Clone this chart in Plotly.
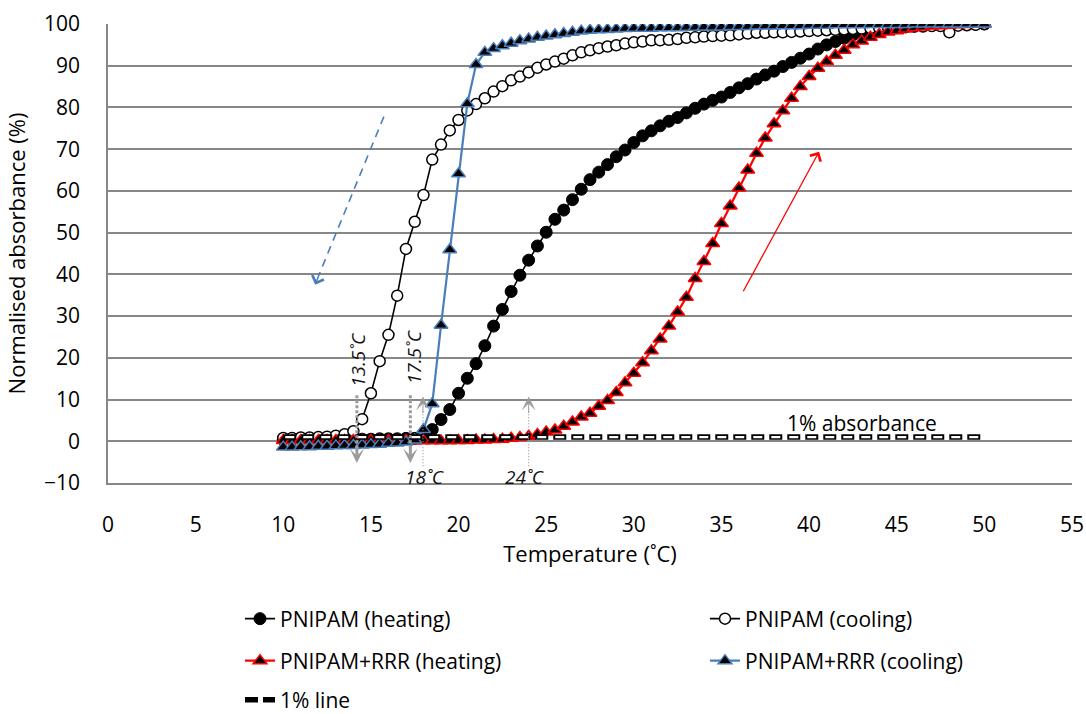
import plotly.graph_objects as go

# ---------------- data ----------------
temps = [10.0, 10.5, 11.0, 11.5, 12.0, 12.5, 13.0, 13.5, 14.0, 14.5,
         15.0, 15.5, 16.0, 16.5, 17.0, 17.5, 18.0, 18.5, 19.0, 19.5,
         20.0, 20.5, 21.0, 21.5, 22.0, 22.5, 23.0, 23.5, 24.0, 24.5,
         25.0, 25.5, 26.0, 26.5, 27.0, 27.5, 28.0, 28.5, 29.0, 29.5,
         30.0, 30.5, 31.0, 31.5, 32.0, 32.5, 33.0, 33.5, 34.0, 34.5,
         35.0, 35.5, 36.0, 36.5, 37.0, 37.5, 38.0, 38.5, 39.0, 39.5,
         40.0, 40.5, 41.0, 41.5, 42.0, 42.5, 43.0, 43.5, 44.0, 44.5,
         45.0, 45.5, 46.0, 46.5, 47.0, 47.5, 48.0, 48.5, 49.0, 49.5, 50.0]

pnipam_heating = [0.4, 0.4, 0.5, 0.5, 0.5, 0.5, 0.5, 0.5, 0.5, 0.5,
                  0.5, 0.6, 0.6, 0.6, 0.7, 0.7, 1.0, 2.8, 5.2, 7.6,
                  11.5, 15.1, 18.6, 22.9, 27.6, 31.6, 35.9, 39.8, 43.4, 46.8,
                  50.1, 53.2, 55.4, 57.9, 60.4, 62.7, 64.5, 66.3, 68.2, 69.8,
                  71.6, 73.2, 74.4, 75.6, 76.7, 77.6, 78.7, 79.8, 80.8, 81.7,
                  82.5, 83.6, 84.7, 85.7, 86.8, 87.8, 88.7, 89.8, 90.8, 91.8,
                  92.8, 94.0, 95.0, 95.8, 96.6, 97.4, 97.9, 98.3, 98.6, 98.9,
                  99.1, 99.3, 99.5, 99.6, 99.7, 99.8, 99.9, 99.9, 100.0, 100.0, 100.0]

pnipam_cooling = [0.8, 0.8, 0.9, 0.9, 1.0, 1.1, 1.35, 1.7, 2.4, 5.3,
                  11.5, 19.2, 25.5, 34.9, 46.1, 52.6, 59.0, 67.5, 71.1, 74.5,
                  77.0, 79.3, 80.8, 82.2, 83.8, 85.1, 86.5, 87.4, 88.4, 89.5,
                  90.3, 91.0, 91.7, 92.5, 93.2, 93.7, 94.2, 94.6, 94.9, 95.3,
                  95.6, 95.8, 96.1, 96.1, 96.2, 96.4, 96.7, 96.8, 97.0, 97.1,
                  97.2, 97.3, 97.5, 97.7, 97.9, 97.9, 98.0, 98.0, 98.1, 98.2,
                  98.3, 98.4, 98.5, 98.6, 98.7, 98.8, 98.9, 99.0, 99.1, 99.2,
                  99.3, 99.3, 99.4, 99.4, 99.5, 99.5, 98.0, 99.6, 99.7, 99.8, 100.0]

rrr_heating = [0.2, 0.2, 0.2, 0.2, 0.2, 0.2, 0.2, 0.2, 0.2, 0.2,
               0.2, 0.2, 0.2, 0.2, 0.2, 0.1, 0.1, 0.1, 0.1, 0.1,
               0.2, 0.2, 0.3, 0.3, 0.4, 0.5, 0.7, 0.9, 1.2, 1.65,
               2.2, 2.7, 3.6, 4.6, 5.8, 6.7, 8.4, 9.8, 11.7, 14.0,
               16.3, 18.8, 21.7, 24.5, 27.6, 31.0, 34.5, 39.0, 43.1, 47.4,
               52.2, 56.4, 60.7, 65.0, 69.0, 72.7, 76.1, 79.2, 82.2, 85.0,
               87.4, 89.4, 91.0, 92.5, 93.7, 95.0, 95.9, 96.8, 97.5, 98.1,
               98.4, 98.8, 99.1, 99.3, 99.5, 99.6, 99.7, 99.8, 99.9, 100.0, 100.0]

rrr_cooling = [-1.4, -1.4, -1.3, -1.3, -1.2, -1.2, -1.1, -1.0, -1.0, -0.9,
               -0.8, -0.7, -0.5, -0.4, -0.2, 0.3, 2.8, 9.0, 27.8, 45.9,
               64.1, 80.9, 90.3, 93.2, 94.1, 94.8, 95.4, 96.0, 96.4, 96.8,
               97.1, 97.4, 97.7, 98.0, 98.3, 98.5, 98.6, 98.7, 98.8, 98.9,
               99.0, 99.0, 99.0, 99.1, 99.1, 99.1, 99.2, 99.2, 99.3, 99.3,
               99.3, 99.4, 99.4, 99.4, 99.5, 99.5, 99.5, 99.6, 99.6, 99.6,
               99.7, 99.7, 99.7, 99.8, 99.8, 99.8, 99.8, 99.9, 99.9, 99.9,
               99.9, 99.9, 100.0, 100.0, 100.0, 100.0, 100.0, 100.0, 100.0, 100.0, 100.0]

line_1pct_x = [10, 50]
line_1pct_y = [1, 1]

x_ticks = [0, 5, 10, 15, 20, 25, 30, 35, 40, 45, 50, 55]
y_ticks = [-10, 0, 10, 20, 30, 40, 50, 60, 70, 80, 90, 100]

# temperature labels: (text, x, y, angle)
temp_labels = [("13.5˚C", 14.27, 19.5, -90), ("17.5˚C", 17.5, 20.1, -90),
               ("18˚C", 18.06, -8.6, 0), ("24˚C", 23.75, -8.6, 0)]
# dotted marker arrows: (x, y_from, y_tip)
down_arrows = [(14.2, 11.0, -5.2), (17.25, 11.0, -5.2)]
up_arrows = [(17.97, -6.0, 10.7), (24.0, -6.0, 10.7)]

for s in (pnipam_heating, pnipam_cooling, rrr_heating, rrr_cooling):
    assert len(s) == len(temps)

FONT = "Open Sans"
BLUE = "#4a7ebb"
GRAY = "#9c9c9c"
GRID = "#878787"

ML, MR, MT, MB = 108, 14, 24, 231
PW = 1086 - ML - MR
PH = 714 - MT - MB

fig = go.Figure()

fig.add_trace(go.Scatter(
    x=temps, y=pnipam_heating, mode="lines+markers", name="PNIPAM (heating)",
    line=dict(color="black", width=1.6),
    marker=dict(symbol="circle", size=12, color="black", line=dict(color="black", width=1)),
    legend="legend"))
fig.add_trace(go.Scatter(
    x=temps, y=pnipam_cooling, mode="lines+markers", name="PNIPAM (cooling)",
    line=dict(color="black", width=1.6),
    marker=dict(symbol="circle", size=11, color="white", line=dict(color="black", width=1.5)),
    legend="legend2"))
fig.add_trace(go.Scatter(
    x=temps, y=rrr_heating, mode="lines+markers", name="PNIPAM+RRR (heating)",
    line=dict(color="#ff0000", width=2.2),
    marker=dict(symbol="triangle-up", size=12, color="black", line=dict(color="#ff0000", width=1.5)),
    legend="legend3"))
fig.add_trace(go.Scatter(
    x=temps, y=rrr_cooling, mode="lines+markers", name="PNIPAM+RRR (cooling)",
    line=dict(color=BLUE, width=2.2),
    marker=dict(symbol="triangle-up", size=12, color="black", line=dict(color=BLUE, width=1.5)),
    legend="legend4"))
fig.add_trace(go.Scatter(
    x=line_1pct_x, y=line_1pct_y, mode="lines", name="1% line",
    line=dict(color="black", width=5.5, dash="13px,5px"), legend="legend5",
    legendgroup="onepct"))
fig.add_trace(go.Scatter(
    x=line_1pct_x, y=line_1pct_y, mode="lines", name="1% line",
    line=dict(color="white", width=2.2, dash="0px,2px,9px,7px"), showlegend=False,
    legendgroup="onepct", hoverinfo="skip"))

shapes = []
annotations = []

# dotted vertical guides
for x, y0, y1 in down_arrows:
    shapes.append(dict(type="line", xref="x", yref="y", x0=x, x1=x, y0=y0, y1=y1 + 3.5,
                       line=dict(color=GRAY, width=3, dash="3px,2px")))
    annotations.append(dict(x=x, y=y1, xref="x", yref="y", text="", showarrow=True,
                            ax=0, ay=-18, arrowhead=3, arrowsize=0.8, arrowwidth=3,
                            arrowcolor=GRAY))
for x, y0, y1 in up_arrows:
    shapes.append(dict(type="line", xref="x", yref="y", x0=x, x1=x, y0=y0, y1=y1 - 3.0,
                       line=dict(color=GRAY, width=1.2, dash="1px,2px")))
    annotations.append(dict(x=x, y=y1, xref="x", yref="y", text="", showarrow=True,
                            ax=0, ay=18, arrowhead=3, arrowsize=2.3, arrowwidth=1.0,
                            arrowcolor=GRAY))

for txt, x, y, ang in temp_labels:
    annotations.append(dict(x=x, y=y, xref="x", yref="y", text="<i>%s</i>" % txt,
                            showarrow=False, textangle=ang,
                            font=dict(family=FONT, size=19, color="#111111")))

# blue dashed cooling arrow
shapes.append(dict(type="line", xref="x", yref="y", x0=15.74, y0=77.8, x1=12.05, y1=40.0,
                   line=dict(color=BLUE, width=1.6, dash="8px,6px")))
annotations.append(dict(x=11.82, y=37.5, xref="x", yref="y", text="", showarrow=True,
                        ax=5, ay=-13, arrowhead=4, arrowsize=1.6, arrowwidth=1.5,
                        arrowcolor=BLUE))
# red heating arrow
annotations.append(dict(x=40.57, y=69.4, xref="x", yref="y", ax=36.2, ay=35.6,
                        axref="x", ayref="y", text="", showarrow=True,
                        arrowhead=4, arrowsize=1.8, arrowwidth=1.3, arrowcolor="#ff0000"))
# 1% absorbance text
annotations.append(dict(x=43.0, y=4.4, xref="x", yref="y", text="1% absorbance",
                        showarrow=False, font=dict(family=FONT, size=21, color="black")))

leg_common = dict(orientation="h", xanchor="left", yanchor="middle",
                  bgcolor="rgba(0,0,0,0)", borderwidth=0,
                  font=dict(family=FONT, size=21, color="black"))

def px_x(px):
    return (px - ML) / float(PW)

def px_y(py):
    return (MT + PH - py) / float(PH)

fig.update_layout(
    width=1086, height=714,
    template="none",
    paper_bgcolor="white", plot_bgcolor="white",
    margin=dict(l=ML, r=MR, t=MT, b=MB, autoexpand=False),
    font=dict(family=FONT, size=21, color="black"),
    xaxis=dict(range=[0, 55], tickvals=x_ticks, showgrid=False, zeroline=False,
               showline=True, linecolor=GRID, linewidth=1.5, ticks="",
               ticklabelstandoff=22, ticklabeloverflow="allow",
               tickfont=dict(family=FONT, size=21),
               title=dict(text="Temperature (˚C)", standoff=10,
                          font=dict(family=FONT, size=22))),
    yaxis=dict(range=[-10, 100], tickvals=y_ticks, showgrid=True, gridcolor=GRID,
               gridwidth=1.5, zeroline=False, showline=True, linecolor=GRID,
               linewidth=1.5, ticks="", ticklabelstandoff=22,
               tickfont=dict(family=FONT, size=21),
               title=dict(text="Normalised absorbance (%)", standoff=12,
                          font=dict(family=FONT, size=22))),
    shapes=shapes,
    annotations=annotations,
    legend=dict(x=px_x(240), y=px_y(619), **leg_common),
    legend2=dict(x=px_x(705), y=px_y(619), **leg_common),
    legend3=dict(x=px_x(240), y=px_y(661), **leg_common),
    legend4=dict(x=px_x(705), y=px_y(661), **leg_common),
    legend5=dict(x=px_x(240), y=px_y(700), **leg_common),
    showlegend=True,
)

fig.write_html("out.html")
